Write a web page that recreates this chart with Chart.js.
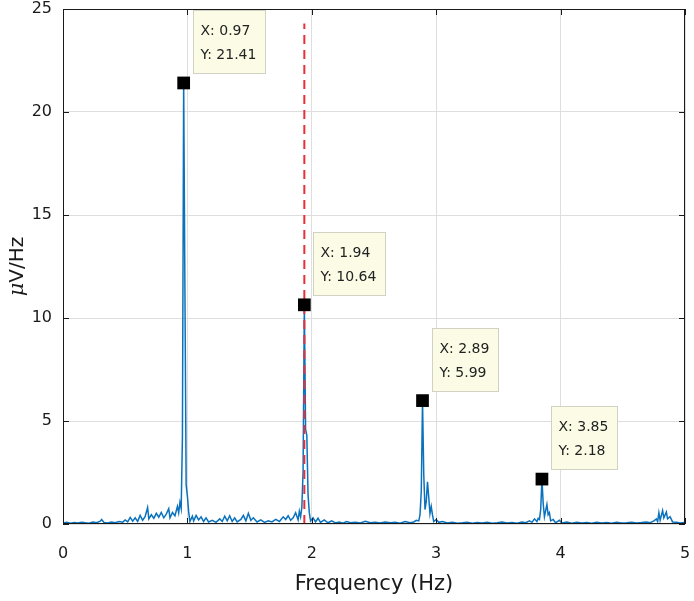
<!DOCTYPE html>
<html><head><meta charset="utf-8">
<script src="https://cdn.jsdelivr.net/npm/chart.js@4"></script>
<style>html,body{margin:0;padding:0;background:#fff}#wrap{width:694px;height:601px}</style>
</head><body><div id="wrap"><canvas id="c" width="694" height="601"></canvas></div>
<script>
const freqHz = [0.00,0.03,0.06,0.09,0.12,0.15,0.18,0.21,0.24,0.27,0.30,0.31,0.33,0.36,0.39,0.42,0.45,0.48,
0.50,0.52,0.54,0.56,0.58,0.60,0.62,0.64,0.66,0.68,0.69,0.71,0.73,0.75,0.77,0.79,0.81,0.83,0.85,0.86,0.88,0.90,0.92,0.93,0.94,0.95,0.96,0.97,0.98,0.99,1.00,1.01,1.02,
1.04,1.05,1.07,1.09,1.11,1.13,1.15,1.17,1.20,1.23,1.26,1.28,1.30,1.32,1.34,1.36,1.38,1.40,1.43,1.45,1.47,1.49,1.51,1.53,1.56,1.59,1.62,1.65,1.68,1.71,1.74,1.77,1.79,1.81,1.83,1.85,1.87,1.89,1.90,1.91,1.92,1.93,1.94,1.95,1.96,1.97,1.98,1.99,
2.01,2.03,2.05,2.07,2.10,2.13,2.16,2.19,2.22,2.25,2.28,2.31,2.35,2.39,2.43,2.47,2.51,2.55,2.59,2.63,2.67,2.71,2.75,2.79,2.82,2.84,2.86,2.87,2.88,2.89,2.90,2.91,2.92,2.93,2.94,2.95,2.96,2.97,2.98,
3.00,3.02,3.05,3.09,3.13,3.17,3.21,3.25,3.29,3.33,3.37,3.41,3.45,3.49,3.53,3.57,3.61,3.65,3.69,3.72,3.75,3.77,3.79,3.81,3.82,3.83,3.84,3.85,3.86,3.87,3.88,3.89,3.90,3.91,3.92,3.94,3.96,3.99,
4.01,4.05,4.09,4.13,4.17,4.21,4.25,4.29,4.33,4.37,4.41,4.45,4.49,4.53,4.57,4.61,4.65,4.69,4.72,4.75,4.77,4.78,4.79,4.80,4.82,4.83,4.85,4.86,4.88,4.90,4.93,4.96,5.00];
const amplitude = [0.05,0.08,0.04,0.07,0.05,0.09,0.06,0.04,0.10,0.06,0.14,0.22,0.07,0.05,0.10,0.06,0.12,0.09,
0.20,0.10,0.32,0.14,0.30,0.12,0.42,0.18,0.36,0.80,0.25,0.45,0.28,0.52,0.33,0.56,0.30,0.48,0.74,0.30,0.56,0.40,0.86,0.55,1.05,0.75,4.2,21.41,11.5,1.9,1.35,0.6,0.12,
0.38,0.15,0.42,0.20,0.35,0.12,0.30,0.10,0.18,0.08,0.25,0.12,0.38,0.15,0.40,0.12,0.30,0.10,0.22,0.42,0.15,0.52,0.18,0.30,0.10,0.20,0.08,0.16,0.10,0.22,0.12,0.35,0.22,0.40,0.18,0.30,0.55,0.20,0.62,0.35,0.80,2.6,10.64,4.6,4.3,1.4,0.55,0.15,
0.30,0.10,0.28,0.08,0.20,0.06,0.15,0.05,0.10,0.04,0.12,0.06,0.09,0.05,0.13,0.06,0.08,0.05,0.10,0.06,0.08,0.04,0.12,0.06,0.10,0.18,0.15,0.45,1.6,5.99,2.4,0.7,1.1,2.05,1.3,0.5,0.85,0.45,0.12,
0.22,0.08,0.12,0.05,0.08,0.04,0.06,0.09,0.04,0.07,0.05,0.08,0.04,0.06,0.10,0.05,0.07,0.04,0.10,0.06,0.15,0.08,0.25,0.12,0.28,0.22,0.7,2.18,1.0,0.35,0.65,0.95,0.45,0.55,0.15,0.22,0.06,0.18,
0.05,0.10,0.04,0.08,0.05,0.07,0.04,0.09,0.05,0.07,0.04,0.08,0.05,0.06,0.09,0.05,0.07,0.10,0.06,0.15,0.25,0.12,0.55,0.18,0.65,0.30,0.58,0.25,0.35,0.10,0.08,0.05,0.07];
const tipX = [0.97, 1.94, 2.89, 3.85];
const tipY = [21.41, 10.64, 5.99, 2.18];
const markerFreq = 1.94;
const markerTop = 24.3;
const xTicks = [0, 1, 2, 3, 4, 5];
const yTicks = [0, 5, 10, 15, 20, 25];
const xTitle = 'Frequency (Hz)';
const yTitleMu = 'μ';
const yTitleRest = 'V/Hz';

const spectrum = freqHz.map((f, i) => ({x: f, y: amplitude[i]}));
const tips = tipX.map((f, i) => ({x: f, y: tipY[i]}));
const marker = [{x: markerFreq, y: 0}, {x: markerFreq, y: markerTop}];

const decor = {
  id: 'decor',
  afterDraw(chart) {
    const {ctx, chartArea: a, scales: {x, y}} = chart;
    ctx.save();
    ctx.strokeStyle = '#1a1a1a';
    ctx.lineWidth = 1;
    ctx.strokeRect(a.left + 0.5, a.top + 0.5, a.right - a.left - 1, a.bottom - a.top - 1);
    const L = 6;
    ctx.beginPath();
    x.ticks.forEach(t => {
      const px = Math.round(x.getPixelForValue(t.value)) + 0.5;
      ctx.moveTo(px, a.bottom); ctx.lineTo(px, a.bottom - L);
      ctx.moveTo(px, a.top); ctx.lineTo(px, a.top + L);
    });
    y.ticks.forEach(t => {
      const py = Math.round(y.getPixelForValue(t.value)) + 0.5;
      ctx.moveTo(a.left, py); ctx.lineTo(a.left + L, py);
      ctx.moveTo(a.right, py); ctx.lineTo(a.right - L, py);
    });
    ctx.stroke();

    // y title
    ctx.save();
    ctx.translate(18, (a.top + a.bottom) / 2);
    ctx.rotate(-Math.PI / 2);
    ctx.fillStyle = '#1a1a1a';
    ctx.textBaseline = 'middle';
    const f1 = 'italic 21px "DejaVu Serif"', f2 = '20px "DejaVu Sans"';
    ctx.font = f1; const w1 = ctx.measureText(yTitleMu).width;
    ctx.font = f2; const w2 = ctx.measureText(yTitleRest).width;
    let sx = -(w1 + w2) / 2;
    ctx.font = f1; ctx.textAlign = 'left'; ctx.fillText(yTitleMu, sx, 0);
    ctx.font = f2; ctx.fillText(yTitleRest, sx + w1, 0);
    ctx.restore();

    // data tips
    ctx.font = '14px "DejaVu Sans"';
    ctx.textAlign = 'left';
    ctx.textBaseline = 'middle';
    tipX.forEach((fx, i) => {
      const px = x.getPixelForValue(fx), py = y.getPixelForValue(tipY[i]);
      const l1 = 'X: ' + fx.toFixed(2), l2 = 'Y: ' + tipY[i].toFixed(2);
      const w = Math.round(Math.max(ctx.measureText(l1).width, ctx.measureText(l2).width) + 16);
      const h = 63;
      const bx = Math.round(px + 9) + 0.5, by = Math.max(a.top, Math.round(py - 10 - h)) + 0.5;
      ctx.fillStyle = '#fcfce6';
      ctx.fillRect(bx, by, w, h);
      ctx.strokeStyle = '#d2d2c4';
      ctx.strokeRect(bx, by, w, h);
      ctx.fillStyle = '#222222';
      ctx.fillText(l1, bx + 7, by + 21);
      ctx.fillText(l2, bx + 7, by + 45);
    });
    ctx.restore();
  }
};

new Chart(document.getElementById('c'), {
  type: 'line',
  data: {
    datasets: [
      {label: 'tips', type: 'scatter', data: tips, showLine: false, pointStyle: 'rect', pointRadius: 9, pointBorderWidth: 0, pointBackgroundColor: '#000', pointBorderColor: '#000', order: 0},
      {label: 'marker', data: marker, borderColor: '#e8303a', borderWidth: 2, borderDash: [9, 6], pointRadius: 0, fill: false, order: 1},
      {label: 'spectrum', data: spectrum, borderColor: '#0a72bd', borderWidth: 1.5, pointRadius: 0, tension: 0, fill: false, order: 2}
    ]
  },
  options: {
    responsive: false,
    animation: false,
    events: [],
    layout: {padding: {top: 8, right: 7, left: 0, bottom: 0}},
    plugins: {legend: {display: false}, tooltip: {enabled: false}},
    scales: {
      x: {
        type: 'linear',
        min: xTicks[0], max: xTicks[xTicks.length - 1],
        ticks: {stepSize: xTicks[1] - xTicks[0], padding: 20, color: '#1a1a1a', font: {family: '"DejaVu Sans"', size: 16}},
        grid: {color: '#dedede', lineWidth: 1, drawTicks: false},
        border: {display: false},
        title: {display: true, text: xTitle, color: '#1a1a1a', font: {family: '"DejaVu Sans"', size: 21}, padding: {top: 0, bottom: 4}},
        afterFit(s) { s.height = 77; s.paddingLeft = 0; s.paddingRight = 0; }
      },
      y: {
        min: yTicks[0], max: yTicks[yTicks.length - 1],
        ticks: {stepSize: yTicks[1] - yTicks[0], padding: 11, color: '#1a1a1a', font: {family: '"DejaVu Sans"', size: 16}},
        grid: {color: '#dedede', lineWidth: 1, drawTicks: false},
        border: {display: false},
        title: {display: false},
        afterFit(s) { s.width = 63; s.paddingTop = 0; s.paddingBottom = 0; }
      }
    }
  },
  plugins: [decor]
});
</script>
</body></html>
